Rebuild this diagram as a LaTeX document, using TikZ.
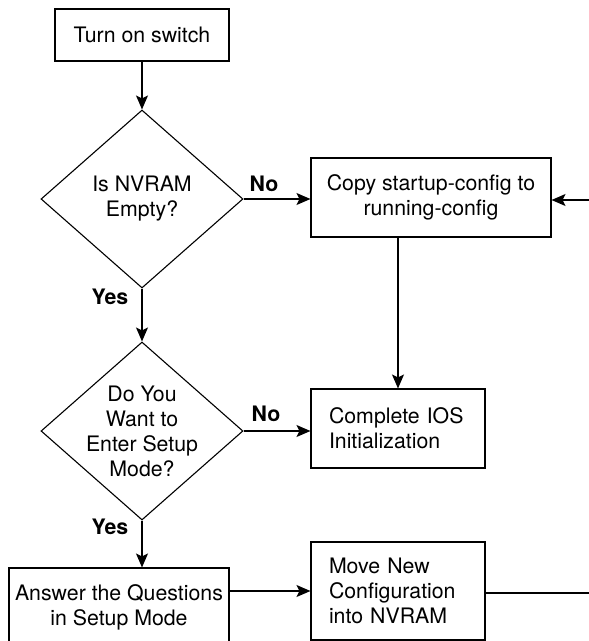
\documentclass[tikz,border=0pt]{standalone}
\usepackage{fontspec}
\setmainfont{TeX Gyre Heros}
\usetikzlibrary{shapes.geometric,arrows.meta}
\begin{document}
\begin{tikzpicture}[x=1pt,y=-1pt,
  every node/.style={font=\fontsize{21.3}{25}\selectfont},
  box/.style={draw,line width=1.1pt,inner sep=0pt,align=center},
  dec/.style={draw,diamond,line width=1.1pt,inner sep=-12pt,align=center,aspect=1.135,minimum width=202pt,minimum height=178pt},
  lab/.style={font=\fontsize{21.3}{25}\selectfont\bfseries},
  conn/.style={line width=1.1pt,-{Stealth[length=14pt,width=12pt,inset=3pt]}},
  plain/.style={line width=1.1pt}]
\useasboundingbox (0,0) rectangle (589,641);
\node[box,minimum width=174pt,minimum height=52pt] (b1) at (142,35) {Turn on switch};
\node[dec] (d1) at (142,199) {Is NVRAM\\Empty?};
\node[box,minimum width=240pt,minimum height=79pt] (b2) at (431,197.5) {Copy startup-config to\\running-config};
\node[dec] (d2) at (142,431) {Do You\\Want to\\Enter Setup\\Mode?};
\node[box,text width=138pt,inner xsep=18pt,minimum height=79pt,align=left] (ios) at (398,428.5) {Complete IOS\\Initialization};
\node[box,minimum width=220pt,minimum height=78pt] (b3) at (119,607) {Answer the Questions\\in Setup Mode};
\node[box,text width=138pt,inner xsep=18pt,minimum height=98pt,align=left] (b4) at (398,591) {Move New\\Configuration\\into NVRAM};
\node[lab] (no1) at (264,184) {No};
\node[lab] (y1) at (110,297) {Yes};
\node[lab] (no2) at (266,414) {No};
\node[lab] (y2) at (110,527) {Yes};
\draw[conn] (b1) -- (d1);
\draw[conn] (d1.east) -- (d1.east -| b2.west);
\draw[conn] (d1) -- (d2);
\draw[conn] (d2.east) -- (d2.east -| ios.west);
\draw[conn] (d2.south) -- (d2.south |- b3.north);
\draw[conn] (b2.south -| ios.north) -- (ios.north);
\draw[conn] (b3.east |- b4.west) -- (b4.west);
\coordinate (rin) at (589,200);
\draw[conn] (rin) -- (rin -| b2.east);
\coordinate (rout) at (589,593);
\draw[plain] (b4.east |- rout) -- (rout);
\end{tikzpicture}
\end{document}
